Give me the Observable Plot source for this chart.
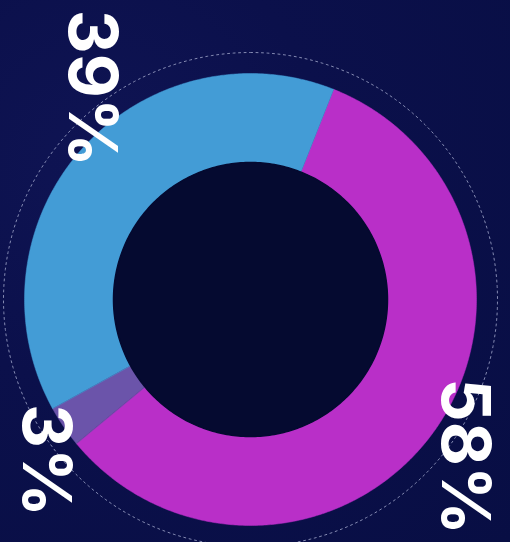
<!DOCTYPE html>
<html>
<head>
<meta charset="utf-8">
<script src="https://cdn.jsdelivr.net/npm/d3@7"></script>
<script src="https://cdn.jsdelivr.net/npm/@observablehq/plot@0.6"></script>
<style>
  html, body { margin: 0; padding: 0; }
  body { width: 510px; height: 542px; overflow: hidden;
    background: radial-gradient(circle at 20% 30%, #0f1454 0%, #0b104b 40%, #080e44 100%); }
  #chart svg { display: block; background: transparent; }
</style>
</head>
<body>
<div id="chart"></div>
<script>
// ---- data ----
const categories = ["Magenta", "Purple", "Blue"];
const values = [58, 3, 39];
const labels = ["58%", "3%", "39%"];
const colors = ["#b92fc8", "#6b54aa", "#439cd6"];

// ---- layout constants ----
const W = 510, H = 542;
const CX = 250, CY = 299;        // pixel centre
const R_OUT = 226, R_IN = 137, R_DOT = 247;
const START_DEG = 21.6;           // where the first slice starts (clockwise from top)
// label placement: [angle (deg, clockwise from top), radius]
const labelPlace = [[126.4, 265], [231.9, 261], [322.8, 265]];

const total = d3.sum(values);
const rad = d => d * Math.PI / 180;

// build slice outlines in polar -> cartesian data units (y up)
const slices = [];
let acc = START_DEG;
values.forEach((v, i) => {
  const a0 = acc, a1 = acc + v / total * 360;
  acc = a1;
  const n = Math.max(8, Math.ceil((a1 - a0) * 2));
  const pts = [];
  for (let k = 0; k <= n; k++) {
    const a = rad(a0 + (a1 - a0) * k / n);
    pts.push({x: R_OUT * Math.sin(a), y: R_OUT * Math.cos(a)});
  }
  for (let k = n; k >= 0; k--) {
    const a = rad(a0 + (a1 - a0) * k / n);
    pts.push({x: R_IN * Math.sin(a), y: R_IN * Math.cos(a)});
  }
  pts.forEach(p => slices.push({...p, cat: categories[i], color: colors[i]}));
});

function circlePts(r, n) {
  const out = [];
  for (let k = 0; k <= n; k++) {
    const a = 2 * Math.PI * k / n;
    out.push({x: r * Math.sin(a), y: r * Math.cos(a)});
  }
  return out;
}

const labelData = labels.map((t, i) => {
  const [ang, r] = labelPlace[i];
  return {text: t, x: r * Math.sin(rad(ang)), y: r * Math.cos(rad(ang))};
});

const chart = Plot.plot({
  width: W, height: H,
  margin: 0,
  x: {domain: [-CX, W - CX], axis: null},
  y: {domain: [-(H - CY), CY], axis: null},
  style: {background: "transparent", fontFamily: "Inter, 'Open Sans', sans-serif"},
  marks: [
    Plot.line(circlePts(R_DOT, 360), {x: "x", y: "y", stroke: "#9aa0c4", strokeWidth: 1, strokeDasharray: "2,3.5", strokeOpacity: 0.85, curve: "linear-closed"}),
    Plot.line(slices, {x: "x", y: "y", z: "cat", fill: "color", stroke: "color", strokeWidth: 0.5, curve: "linear-closed"}),
    Plot.line(circlePts(R_IN, 360), {x: "x", y: "y", fill: "#050a30", stroke: "#050a30", curve: "linear-closed"}),
    Plot.text(labelData, {x: "x", y: "y", text: "text", rotate: 90, fill: "white", fontSize: 68, fontWeight: 700, textAnchor: "middle", lineAnchor: "middle", letterSpacing: -1})
  ]
});
document.getElementById("chart").appendChild(chart);
</script>
</body>
</html>
